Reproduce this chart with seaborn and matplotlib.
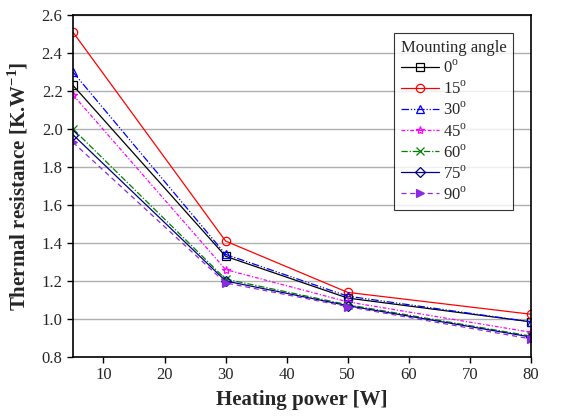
import matplotlib
matplotlib.use('Agg')

import pandas as pd
import matplotlib.pyplot as plt
import seaborn as sns

power = [5, 30, 50, 80]
angles = ['0', '15', '30', '45', '60', '75', '90']

r_0 = [2.23, 1.33, 1.11, 0.985]
r_15 = [2.51, 1.41, 1.14, 1.025]
r_30 = [2.30, 1.34, 1.12, 0.985]
r_45 = [2.18, 1.26, 1.09, 0.93]
r_60 = [2.00, 1.21, 1.075, 0.91]
r_75 = [1.97, 1.20, 1.07, 0.905]
r_90 = [1.93, 1.19, 1.065, 0.895]

series = [r_0, r_15, r_30, r_45, r_60, r_75, r_90]

# line styles per angle: colour, dashes, marker, face
styles = {
    '0': ('black', '-', 's', 'none'),
    '15': ('red', '-', 'o', 'none'),
    '30': ('blue', (0, (6, 1.5, 1, 1.5, 1, 1.5)), '^', 'none'),
    '45': ('magenta', (0, (3, 1.5, 1, 1.5)), '*', 'none'),
    '60': ('green', (0, (5, 1.5, 1, 1.5)), 'x', 'green'),
    '75': ('navy', '-', 'D', 'none'),
    '90': ('blueviolet', (0, (4, 3)), '>', 'blueviolet'),
}

rows = []
for a, vals in zip(angles, series):
    for p, v in zip(power, vals):
        rows.append({'power': p, 'R': v, 'angle': a})
df = pd.DataFrame(rows)

sns.set_style('white')
plt.rcParams['font.family'] = ['Liberation Serif', 'DejaVu Serif']
plt.rcParams['mathtext.fontset'] = 'custom'
plt.rcParams['mathtext.rm'] = 'Liberation Serif'
plt.rcParams['mathtext.bf'] = 'Liberation Serif:bold'

fig = plt.figure(figsize=(5.79, 4.18), dpi=100)
ax = fig.add_axes([0.126, 0.146, 0.791, 0.818])

for a in angles:
    c, ls, m, fc = styles[a]
    sub = df[df['angle'] == a]
    sns.lineplot(data=sub, x='power', y='R', ax=ax, color=c, linestyle=ls,
                 linewidth=0.9, marker=m, markersize=6 if m != 'D' else 5,
                 markerfacecolor=fc if m != 'x' else c, markeredgecolor=c,
                 markeredgewidth=0.9, label=a + r'$^\mathregular{o}$')

ax.set_xlim(5, 80)
ax.set_ylim(0.8, 2.6)
ax.set_xticks([10, 20, 30, 40, 50, 60, 70, 80])
ax.set_yticks([0.8, 1.0, 1.2, 1.4, 1.6, 1.8, 2.0, 2.2, 2.4, 2.6])
ax.set_yticklabels(['%.1f' % t for t in ax.get_yticks()])
ax.grid(axis='y', color='#b0b0b0', linewidth=1.0)
ax.set_axisbelow(True)
ax.tick_params(direction='out', length=4, width=1, labelsize=12, color='black',
               bottom=True, left=True)
for s in ax.spines.values():
    s.set_color('black')
    s.set_linewidth(1.2)

ax.set_xlabel('Heating power [W]', fontsize=15, fontweight='bold', labelpad=5)
ax.set_ylabel(r'Thermal resistance [K.W$^\mathbf{-1}$]', fontsize=15,
              fontweight='bold', labelpad=8)

leg = ax.legend(title='Mounting angle', loc='upper right',
                bbox_to_anchor=(0.961, 0.947), borderaxespad=0,
                fontsize=12, title_fontsize=12,
                frameon=True, fancybox=False, edgecolor='black',
                handlelength=2.3, borderpad=0.4, labelspacing=0.22,
                handletextpad=0.25)
leg.get_frame().set_linewidth(0.8)
leg._legend_box.align = 'left'

fig.savefig('out.png', dpi=100)
